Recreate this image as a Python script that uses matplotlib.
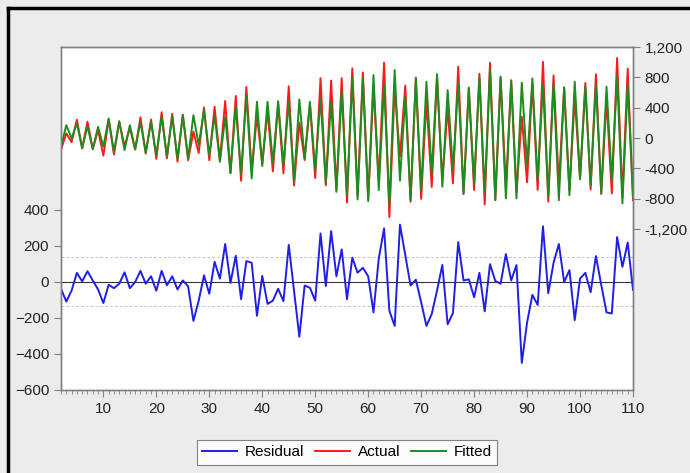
import numpy as np
import matplotlib.pyplot as plt
from matplotlib.lines import Line2D
from matplotlib.ticker import FuncFormatter, MultipleLocator

plt.rcParams['font.family'] = ['Liberation Sans', 'DejaVu Sans']

# observations 2..110 (one lost to the lag)
obs = np.arange(2, 111)

fitted = np.array([
    -114, 171, -4, 193, -136, 158, -149, 149, -114, 259,
    -180, 224, -158, 171, -149, 215, -193, 215, -224, 281,
    -246, 290, -268, 303, -268, 303, -92, 369, -224, 303,
    -312, 281, -457, 413, -466, 560, -532, 479, -369, 479,
    -334, 488, -356, 479, -576, 510, -268, 479, -422, 523,
    -598, 479, -708, 611, -752, 787, -809, 787, -831, 831,
    -686, 699, -880, 897, -560, 545, -818, 787, -686, 743,
    -466, 844, -642, 633, -422, 721, -738, 655, -598, 800,
    -708, 897, -818, 809, -796, 756, -796, 730, -356, 787,
    -554, 699, -774, 721, -818, 668, -752, 743, -545, 677,
    -620, 699, -721, 677, -554, 809, -862, 699, -774,
])

residual = np.array([
    -39, -110, -49, 49, 2, 58, 7, -43, -118, -17,
    -36, -11, 52, -36, -2, 60, -11, 30, -50, 60,
    -20, 30, -43, 7, -26, -217, -105, 35, -67, 110,
    17, 209, -7, 144, -97, 114, 105, -189, 32, -123,
    -105, -39, -108, 204, -50, -305, -21, -34, -105, 267,
    -24, 280, 30, 179, -97, 133, 50, 77, 30, -170,
    129, 295, -161, -245, 316, 148, -21, 11, -114, -245,
    -179, -49, 93, -236, -174, 219, 7, 13, -86, 49,
    -164, 97, 4, -11, 153, 7, 92, -450, -226, -73,
    -129, 307, -64, 105, 209, -2, 64, -213, 17, 49,
    -58, 142, -17, -170, -176, 247, 82, 217, -45,
])

actual = fitted + residual
se = np.sqrt(np.mean(residual ** 2))

left_ticks = [-600, -400, -200, 0, 200, 400]
right_ticks = [-1200, -800, -400, 0, 400, 800, 1200]
x_major = np.arange(10, 111, 10)

fig = plt.figure(figsize=(6.9, 4.73), dpi=100, facecolor='#ececec')
ax = fig.add_axes([0.0884, 0.1755, 0.829, 0.725])
ax2 = ax.twinx()

grey = '#808080'
txt = '#222222'

# residual panel
ax.axhline(0, color='#333333', lw=0.8, zorder=1)
ax.axhline(se, color='#c4c4c4', lw=0.7, ls=(0, (3, 2)), zorder=1)
ax.axhline(-se, color='#c4c4c4', lw=0.7, ls=(0, (3, 2)), zorder=1)
l_res, = ax.plot(obs, residual, color='#1f1fe6', lw=1.4, label='Residual', zorder=3)
ax.set_ylim(-600, 1300)
ax.set_yticks(left_ticks)
ax.set_xlim(2, 110)
ax.set_xticks(x_major)
ax.xaxis.set_minor_locator(MultipleLocator(1))

# actual / fitted panel
l_act, = ax2.plot(obs, actual, color='#ff1a1a', lw=1.4, label='Actual')
l_fit, = ax2.plot(obs, fitted, color='#1e8c1e', lw=1.4, label='Fitted')
ax2.set_ylim(-3320, 1200)
ax2.set_yticks(right_ticks)
ax2.yaxis.set_major_formatter(FuncFormatter(lambda v, p: f'{int(v):,}'))

for a in (ax, ax2):
    for s in a.spines.values():
        s.set_color(grey)
        s.set_linewidth(1.0)
    a.tick_params(axis='both', which='both', direction='out', colors=grey,
                  labelcolor=txt, labelsize=11)
    a.tick_params(axis='both', which='major', length=5)
    a.tick_params(axis='both', which='minor', length=3)
ax.set_facecolor('white')

leg = fig.legend(handles=[l_res, l_act, l_fit], loc='center',
                 bbox_to_anchor=(0.503, 0.044), ncol=3, frameon=True,
                 fancybox=False, fontsize=11, handlelength=2.3,
                 columnspacing=0.7, handletextpad=0.5, borderpad=0.35)
leg.get_frame().set_edgecolor('#666666')
leg.get_frame().set_linewidth(0.8)

# window border (left and top edges of the screenshot frame)
fig.add_artist(Line2D([0.012, 0.012], [0.0, 0.983], color='black', lw=2.5,
                      transform=fig.transFigure))
fig.add_artist(Line2D([0.012, 1.0], [0.983, 0.983], color='black', lw=2.5,
                      transform=fig.transFigure))

fig.savefig('out.png', dpi=100, facecolor=fig.get_facecolor())
